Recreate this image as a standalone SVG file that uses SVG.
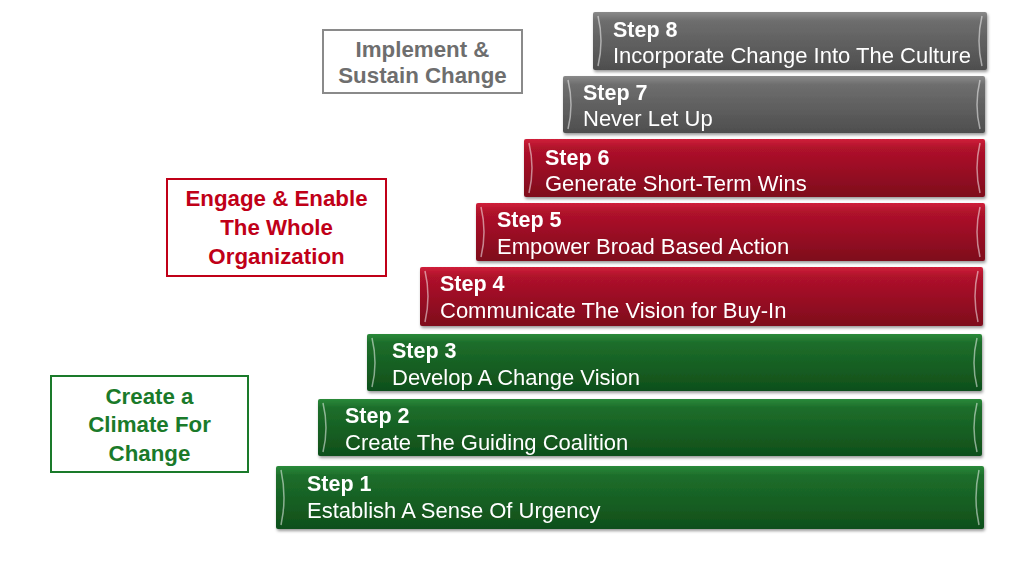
<svg xmlns="http://www.w3.org/2000/svg" width="1024" height="570" viewBox="0 0 1024 570">
<style>
.t1{font-family:"Liberation Sans",Arial,sans-serif;font-weight:bold;font-size:21.5px;fill:#fff}
.t2{font-family:"Liberation Sans",Arial,sans-serif;font-size:22px;fill:#fff}
.lb{font-family:"Liberation Sans",Arial,sans-serif;font-weight:bold;font-size:22.3px;text-anchor:middle}
.hl{fill:none;stroke:#fff;stroke-opacity:0.5;stroke-width:1.5}
</style>
<defs>
<linearGradient id="g" x1="0" y1="0" x2="0" y2="1"><stop offset="0" stop-color="#2a8a3a"/><stop offset="0.15" stop-color="#1d6e2b"/><stop offset="1" stop-color="#0f4f1a"/></linearGradient>
<linearGradient id="r" x1="0" y1="0" x2="0" y2="1"><stop offset="0" stop-color="#d0203a"/><stop offset="0.15" stop-color="#b0122b"/><stop offset="1" stop-color="#7e0a1c"/></linearGradient>
<linearGradient id="k" x1="0" y1="0" x2="0" y2="1"><stop offset="0" stop-color="#8a8a8a"/><stop offset="0.15" stop-color="#6e6e6e"/><stop offset="1" stop-color="#4e4e4e"/></linearGradient>
<filter id="s" x="-5%" y="-10%" width="110%" height="130%"><feDropShadow dx="1" dy="2" stdDeviation="1.5" flood-opacity="0.4"/></filter>
</defs>
<rect width="1024" height="570" fill="#fff"/>
<g id="label-implement"><rect x="323" y="30" width="199" height="63" fill="#fff" stroke="#8a8a8a" stroke-width="2"/><text class="lb" fill="#6e6e6e" x="422.5" y="57">Implement &amp;</text><text class="lb" fill="#6e6e6e" x="422.5" y="83">Sustain Change</text></g>
<g id="label-engage"><rect x="167" y="179" width="219" height="97" fill="#fff" stroke="#c00018" stroke-width="2"/><text class="lb" fill="#c00018" x="276.5" y="206">Engage &amp; Enable</text><text class="lb" fill="#c00018" x="276.5" y="235">The Whole</text><text class="lb" fill="#c00018" x="276.5" y="264">Organization</text></g>
<g id="label-create"><rect x="51" y="376" width="197" height="96" fill="#fff" stroke="#1a7a2a" stroke-width="2"/><text class="lb" fill="#1a7a2a" x="149.5" y="404">Create a</text><text class="lb" fill="#1a7a2a" x="149.5" y="432">Climate For</text><text class="lb" fill="#1a7a2a" x="149.5" y="461">Change</text></g>
<g id="step8" filter="url(#s)"><rect x="593" y="12" width="394" height="58" rx="2" fill="url(#k)"/><path class="hl" d="M598 16 q6 25 0 50 M982 16 q-6 25 0 50"/><text class="t1" x="613" y="37">Step 8</text><text class="t2" x="613" y="63">Incorporate Change Into The Culture</text></g>
<g id="step7" filter="url(#s)"><rect x="563" y="76" width="422" height="57" rx="2" fill="url(#k)"/><path class="hl" d="M568 80 q6 25 0 49 M980 80 q-6 25 0 49"/><text class="t1" x="583" y="100">Step 7</text><text class="t2" x="583" y="126">Never Let Up</text></g>
<g id="step6" filter="url(#s)"><rect x="524" y="139" width="461" height="58" rx="2" fill="url(#r)"/><path class="hl" d="M529 143 q6 25 0 50 M980 143 q-6 25 0 50"/><text class="t1" x="545" y="165">Step 6</text><text class="t2" x="545" y="191">Generate Short-Term Wins</text></g>
<g id="step5" filter="url(#s)"><rect x="476" y="203" width="509" height="58" rx="2" fill="url(#r)"/><path class="hl" d="M481 207 q6 25 0 50 M980 207 q-6 25 0 50"/><text class="t1" x="497" y="227">Step 5</text><text class="t2" x="497" y="254">Empower Broad Based Action</text></g>
<g id="step4" filter="url(#s)"><rect x="420" y="267" width="563" height="59" rx="2" fill="url(#r)"/><path class="hl" d="M425 271 q6 25 0 51 M978 271 q-6 25 0 51"/><text class="t1" x="440" y="291">Step 4</text><text class="t2" x="440" y="318">Communicate The Vision for Buy-In</text></g>
<g id="step3" filter="url(#s)"><rect x="367" y="334" width="615" height="57" rx="2" fill="url(#g)"/><path class="hl" d="M372 338 q6 25 0 49 M977 338 q-6 25 0 49"/><text class="t1" x="392" y="358">Step 3</text><text class="t2" x="392" y="385">Develop A Change Vision</text></g>
<g id="step2" filter="url(#s)"><rect x="318" y="399" width="664" height="57" rx="2" fill="url(#g)"/><path class="hl" d="M323 403 q6 25 0 49 M977 403 q-6 25 0 49"/><text class="t1" x="345" y="423">Step 2</text><text class="t2" x="345" y="450">Create The Guiding Coalition</text></g>
<g id="step1" filter="url(#s)"><rect x="276" y="466" width="708" height="63" rx="2" fill="url(#g)"/><path class="hl" d="M281 470 q6 28 0 55 M979 470 q-6 28 0 55"/><text class="t1" x="307" y="491">Step 1</text><text class="t2" x="307" y="518">Establish A Sense Of Urgency</text></g>
<g id="connectors"/>
</svg>
